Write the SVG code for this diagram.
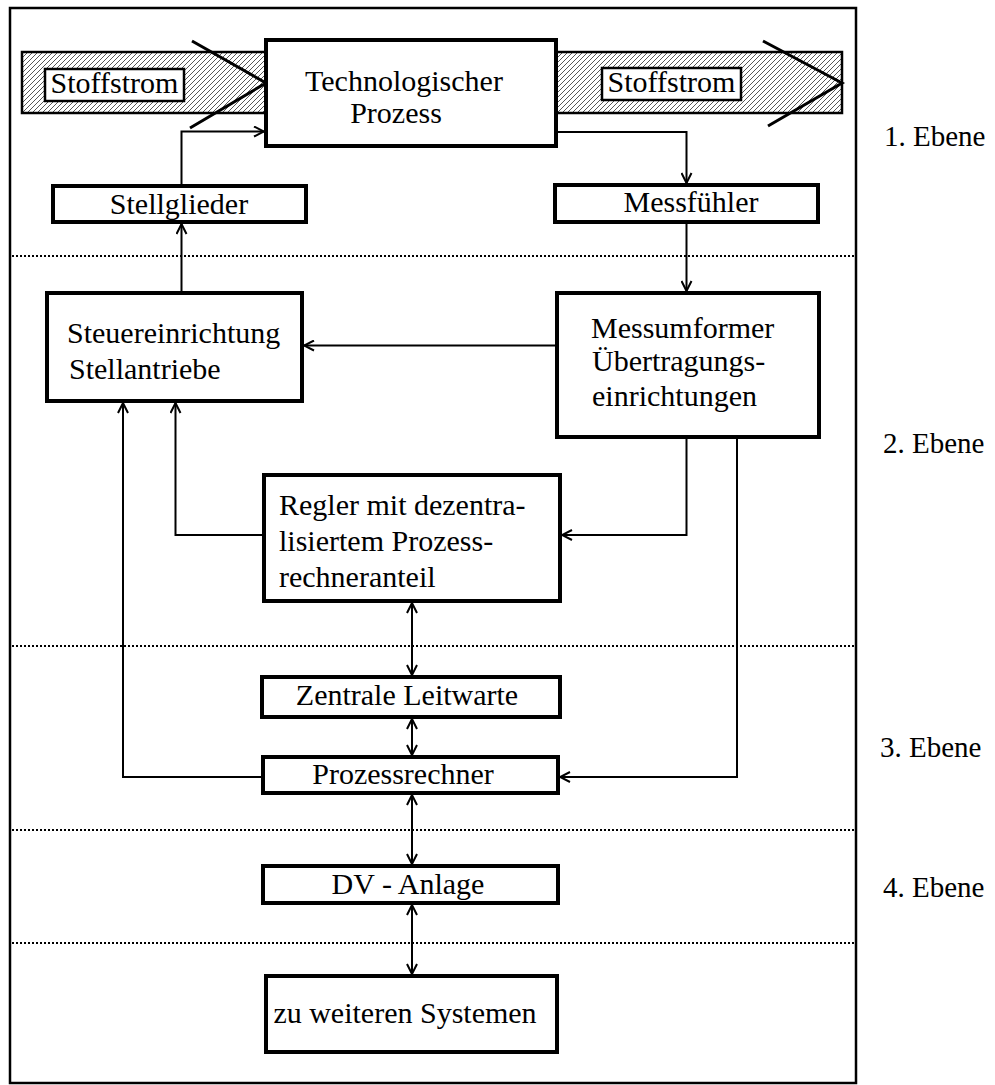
<svg xmlns="http://www.w3.org/2000/svg" width="995" height="1085" viewBox="0 0 995 1085">
  <style>
    text { font-family: "Liberation Serif", "Times New Roman", serif; font-size: 30px; fill: #000; }
    .lvl { font-size: 29px; }
    .box { fill: #fff; stroke: #000; stroke-width: 4; }
    .lbl { fill: #fff; stroke: #000; stroke-width: 2.5; }
    .bar { fill: url(#hatch); stroke: #000; stroke-width: 2.5; }
    .chev { fill: none; stroke: #000; stroke-width: 3; }
    .sep { fill: none; stroke: #000; stroke-width: 2; stroke-dasharray: 2 2; }
    .con { fill: none; stroke: #000; stroke-width: 2; }
  </style>
  <defs>
    <pattern id="hatch" patternUnits="userSpaceOnUse" width="5" height="5">
      <rect width="5" height="5" fill="#fff"/>
      <path d="M0,5 L5,0 M-1,1 L1,-1 M4,6 L6,4" stroke="#444" stroke-width="0.9"/>
    </pattern>
    <marker id="arr" viewBox="0 0 12 12" refX="11" refY="6" markerWidth="12" markerHeight="12" markerUnits="userSpaceOnUse" orient="auto-start-reverse">
      <path d="M1,1 L11,6 L1,11" fill="none" stroke="#000" stroke-width="2"/>
    </marker>
  </defs>

  <rect width="995" height="1085" fill="#fff"/>
  <!-- outer frame -->
  <rect x="10" y="8" width="846" height="1075" fill="none" stroke="#000" stroke-width="2.5"/>

  <!-- level separators -->
  <g id="separators">
    <line class="sep" x1="12" y1="256" x2="854" y2="256"/>
    <line class="sep" x1="12" y1="646" x2="854" y2="646"/>
    <line class="sep" x1="12" y1="830" x2="854" y2="830"/>
    <line class="sep" x1="12" y1="943" x2="854" y2="943"/>
  </g>

  <!-- material flow in -->
  <g id="stoffstrom-in">
    <rect class="bar" x="22" y="52" width="244" height="61"/>
    <rect class="lbl" x="45" y="69" width="139" height="32"/>
    <text x="114.5" y="93" text-anchor="middle">Stoffstrom</text>
    <path class="chev" d="M192,41 L266,83 L190,128"/>
  </g>

  <!-- material flow out -->
  <g id="stoffstrom-out">
    <rect class="bar" x="556" y="52" width="286" height="61"/>
    <rect class="lbl" x="602" y="68" width="139" height="32"/>
    <text x="671.5" y="92" text-anchor="middle">Stoffstrom</text>
    <path class="chev" d="M763,41 L842,83 L768,126"/>
  </g>

  <g id="technologischer-prozess">
    <rect class="box" x="266" y="40" width="290" height="106"/>
    <text x="404" y="91" text-anchor="middle">Technologischer</text>
    <text x="396" y="123" text-anchor="middle">Prozess</text>
  </g>

  <g id="stellglieder">
    <rect class="box" x="53" y="186" width="253" height="36"/>
    <text x="179" y="214" text-anchor="middle">Stellglieder</text>
  </g>

  <g id="messfuehler">
    <rect class="box" x="555" y="185" width="263" height="37"/>
    <text x="691" y="212" text-anchor="middle">Messfühler</text>
  </g>

  <g id="steuereinrichtung">
    <rect class="box" x="47" y="293" width="255" height="108"/>
    <text x="67" y="343">Steuereinrichtung</text>
    <text x="69" y="379">Stellantriebe</text>
  </g>

  <g id="messumformer">
    <rect class="box" x="557" y="293" width="262" height="144"/>
    <text x="591" y="338">Messumformer</text>
    <text x="592" y="371">Übertragungs-</text>
    <text x="592" y="406">einrichtungen</text>
  </g>

  <g id="regler">
    <rect class="box" x="264" y="475" width="296" height="126"/>
    <text x="279" y="515">Regler mit dezentra-</text>
    <text x="279" y="551">lisiertem Prozess-</text>
    <text x="279" y="587">rechneranteil</text>
  </g>

  <g id="zentrale-leitwarte">
    <rect class="box" x="262" y="677" width="298" height="40"/>
    <text x="407" y="705" text-anchor="middle">Zentrale Leitwarte</text>
  </g>

  <g id="prozessrechner">
    <rect class="box" x="263" y="757" width="295" height="36"/>
    <text x="403" y="784" text-anchor="middle">Prozessrechner</text>
  </g>

  <g id="dv-anlage">
    <rect class="box" x="263" y="866" width="295" height="37"/>
    <text x="408" y="894" text-anchor="middle">DV - Anlage</text>
  </g>

  <g id="weitere-systeme">
    <rect class="box" x="266" y="976" width="291" height="76"/>
    <text x="405" y="1023" text-anchor="middle">zu weiteren Systemen</text>
  </g>

  <!-- connectors -->
  <g id="connectors">
    <path class="con" d="M181.5,186 V131.5 H264" marker-end="url(#arr)"/>
    <path class="con" d="M556,132 H686.5 V183" marker-end="url(#arr)"/>
    <path class="con" d="M686.5,224 V291" marker-end="url(#arr)"/>
    <path class="con" d="M181.5,291 V224" marker-end="url(#arr)"/>
    <path class="con" d="M555,345.5 H304" marker-end="url(#arr)"/>
    <path class="con" d="M686.5,439 V535 H562" marker-end="url(#arr)"/>
    <path class="con" d="M262,535 H175.5 V403" marker-end="url(#arr)"/>
    <path class="con" d="M261,777 H123 V403" marker-end="url(#arr)"/>
    <path class="con" d="M737,439 V777 H560" marker-end="url(#arr)"/>
    <path class="con" d="M412,603 V675" marker-start="url(#arr)" marker-end="url(#arr)"/>
    <path class="con" d="M412,719 V755" marker-start="url(#arr)" marker-end="url(#arr)"/>
    <path class="con" d="M412,795 V864" marker-start="url(#arr)" marker-end="url(#arr)"/>
    <path class="con" d="M412,905 V974" marker-start="url(#arr)" marker-end="url(#arr)"/>
  </g>

  <!-- level labels -->
  <g id="ebenen">
    <text class="lvl" x="884" y="146">1. Ebene</text>
    <text class="lvl" x="883" y="453">2. Ebene</text>
    <text class="lvl" x="880" y="757">3. Ebene</text>
    <text class="lvl" x="883" y="897">4. Ebene</text>
  </g>
</svg>
